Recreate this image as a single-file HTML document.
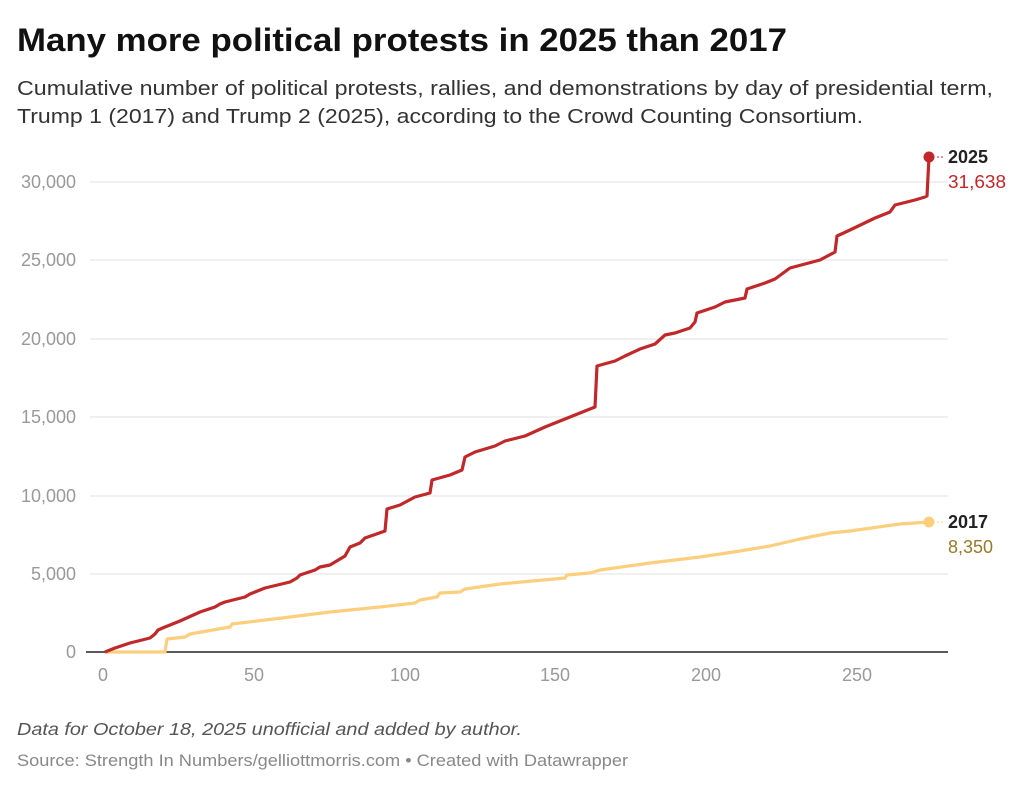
<!DOCTYPE html>
<html><head><meta charset="utf-8"><style>
body{margin:0;background:#fff;width:1024px;height:788px;overflow:hidden;font-family:"Liberation Sans",sans-serif}
</style></head><body>
<svg width="1024" height="788" xmlns="http://www.w3.org/2000/svg" font-family="Liberation Sans, sans-serif">
<text x="17" y="51" font-size="32" font-weight="bold" fill="#111" textLength="770" lengthAdjust="spacingAndGlyphs">Many more political protests in 2025 than 2017</text>
<text x="17" y="95" font-size="20" fill="#333" textLength="976" lengthAdjust="spacingAndGlyphs">Cumulative number of political protests, rallies, and demonstrations by day of presidential term,</text>
<text x="17" y="123" font-size="20" fill="#333" textLength="846" lengthAdjust="spacingAndGlyphs">Trump 1 (2017) and Trump 2 (2025), according to the Crowd Counting Consortium.</text>
<g stroke="#e2e2e2" stroke-width="1">
<line x1="90" x2="948" y1="182" y2="182"/><line x1="90" x2="948" y1="260" y2="260"/><line x1="90" x2="948" y1="339" y2="339"/>
<line x1="90" x2="948" y1="417" y2="417"/><line x1="90" x2="948" y1="496" y2="496"/><line x1="90" x2="948" y1="574" y2="574"/>
</g>
<line x1="86" x2="948" y1="652" y2="652" stroke="#222" stroke-width="1.5"/>
<g font-size="18" fill="#999" text-anchor="end">
<text x="76" y="188">30,000</text><text x="76" y="266">25,000</text><text x="76" y="345">20,000</text>
<text x="76" y="423">15,000</text><text x="76" y="502">10,000</text><text x="76" y="580">5,000</text><text x="76" y="658">0</text>
</g>
<g font-size="18" fill="#999" text-anchor="middle">
<text x="103" y="681">0</text><text x="254" y="681">50</text><text x="405" y="681">100</text>
<text x="555" y="681">150</text><text x="706" y="681">200</text><text x="857" y="681">250</text>
</g>
<polyline fill="none" stroke="#fbcf7e" stroke-width="3.2" stroke-linejoin="round" points="105,652 165,652 167,639 185,637 190,634 230,627 232,624 290,617 330,612 380,607 415,603 420,600 437,597 440,593 460,592 465,589 500,584 565,578 567,575 590,573 600,570 650,563 700,557 740,551 770,546 800,539 830,533 850,531 900,524 929,522"/>
<polyline fill="none" stroke="#c0282a" stroke-width="3.2" stroke-linejoin="round" points="105,652 115,648 130,643 150,638 155,634 158,630 165,627 180,621 200,612 215,607 220,604 225,602 245,597 250,594 265,588 290,582 297,578 300,575 315,570 320,567 330,565 345,556 350,547 360,543 365,538 385,531 387,509 400,505 415,497 430,493 432,480 450,475 462,470 465,457 475,452 495,446 505,441 525,436 545,427 570,417 595,407 597,366 615,361 625,356 640,349 655,344 665,335 675,333 690,328 695,322 697,313 715,307 725,302 745,298 747,289 765,283 775,279 790,268 805,264 820,260 835,252 837,236 850,230 875,218 890,212 895,205 915,200 925,197 927,196 929,157"/>
<circle cx="929" cy="157" r="5.5" fill="#c0282a"/>
<circle cx="929" cy="522" r="5.5" fill="#fbcf7e"/>
<line x1="937" x2="944" y1="157" y2="157" stroke="#c0282a" stroke-dasharray="2,2"/>
<line x1="937" x2="944" y1="522" y2="522" stroke="#fbcf7e" stroke-dasharray="2,2"/>
<text x="948" y="163" font-size="18" font-weight="bold" fill="#222">2025</text>
<text x="948" y="188" font-size="18" fill="#c0282a" textLength="58" lengthAdjust="spacingAndGlyphs">31,638</text>
<text x="948" y="528" font-size="18" font-weight="bold" fill="#222">2017</text>
<text x="948" y="553" font-size="18" fill="#9a7a2a">8,350</text>
<text x="17" y="735" font-size="17.5" font-style="italic" fill="#555" textLength="505" lengthAdjust="spacingAndGlyphs">Data for October 18, 2025 unofficial and added by author.</text>
<text x="17" y="766" font-size="16.5" fill="#888" textLength="611" lengthAdjust="spacingAndGlyphs">Source: Strength In Numbers/gelliottmorris.com • Created with Datawrapper</text>
</svg>
</body></html>
